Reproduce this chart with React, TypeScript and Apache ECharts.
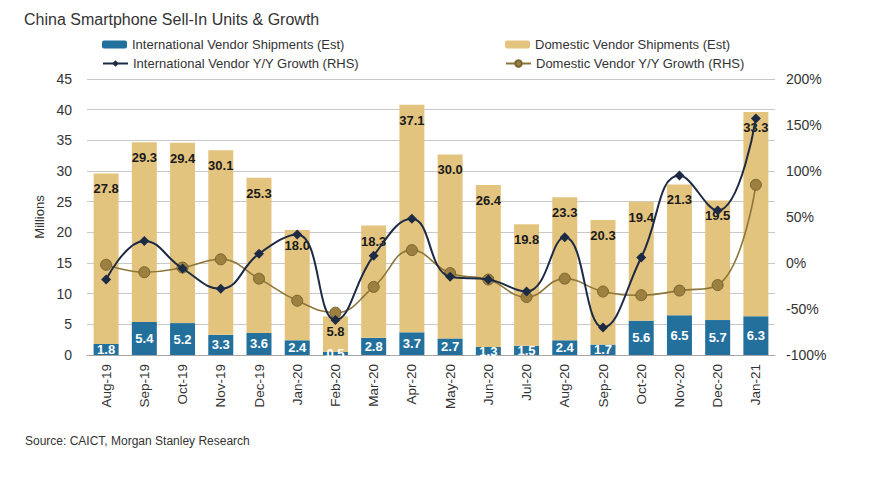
import React, { useEffect, useRef } from "react";
import * as echarts from "echarts";

const categories = ["Aug-19","Sep-19","Oct-19","Nov-19","Dec-19","Jan-20","Feb-20","Mar-20","Apr-20","May-20","Jun-20","Jul-20","Aug-20","Sep-20","Oct-20","Nov-20","Dec-20","Jan-21"];
const intlShipments = [1.8,5.4,5.2,3.3,3.6,2.4,0.5,2.8,3.7,2.7,1.3,1.5,2.4,1.7,5.6,6.5,5.7,6.3];
const domesticShipments = [27.8,29.3,29.4,30.1,25.3,18.0,5.8,18.3,37.1,30.0,26.4,19.8,23.3,20.3,19.4,21.3,19.5,33.3];
const intlGrowth = [-18,24,-6,-28,10,31,-62,8,48,-15,-18,-31,28,-70,6,95,57,157];
const domesticGrowth = [-2,-10,-5,4,-17,-41,-54,-26,14,-11,-18,-37,-17,-31,-35,-30,-24,85];

const NAMES = [
  "International Vendor Shipments (Est)",
  "Domestic Vendor Shipments (Est)",
  "International Vendor Y/Y Growth (RHS)",
  "Domestic Vendor Y/Y Growth (RHS)",
];

const FONT = "Liberation Sans, Arial, sans-serif";
const BLUE = "#23709d";
const TAN = "#e3c47f";
const NAVY = "#1d2a44";
const BROWN = "#8c7538";

export default function App() {
  const ref = useRef<HTMLDivElement>(null);
  useEffect(() => {
    if (!ref.current) return;
    const chart = echarts.init(ref.current, null, { renderer: "svg" });
    const legendText = { fontFamily: FONT, fontSize: 13, color: "#333" };
    const mkLegend = (name: string, left: number, top: number) => ({
      data: [name],
      left,
      top,
      itemWidth: 25,
      itemHeight: 8,
      itemGap: 0,
      padding: 0,
      textStyle: legendText,
    });
    chart.setOption({
      animation: false,
      backgroundColor: "#ffffff",
      title: {
        text: "China Smartphone Sell-In Units & Growth",
        left: 24,
        top: 11,
        padding: 0,
        textStyle: { fontFamily: FONT, fontSize: 16, fontWeight: "normal", color: "#333" },
      },
      legend: [
        mkLegend(NAMES[0], 102, 38),
        mkLegend(NAMES[1], 505, 38),
        mkLegend(NAMES[2], 102, 57),
        mkLegend(NAMES[3], 505, 57),
      ],
      graphic: [
        {
          type: "text",
          left: 25,
          top: 435,
          style: { text: "Source: CAICT, Morgan Stanley Research", fontFamily: FONT, fontSize: 12, fill: "#333" },
        },
      ],
      grid: { left: 87, right: 95, top: 79, bottom: 130 },
      xAxis: {
        type: "category",
        data: categories,
        axisLine: { lineStyle: { color: "#a6a6a6", width: 1 } },
        axisTick: { show: false },
        axisLabel: { rotate: 90, fontFamily: FONT, fontSize: 13.5, color: "#333", margin: 9 },
      },
      yAxis: [
        {
          type: "value",
          min: 0,
          max: 45,
          interval: 5,
          name: "Millions",
          nameLocation: "middle",
          nameRotate: 90,
          nameGap: 36,
          nameTextStyle: { fontFamily: FONT, fontSize: 13, color: "#333" },
          axisLine: { show: false },
          axisTick: { show: false },
          axisLabel: { fontFamily: FONT, fontSize: 14, color: "#333", margin: 15 },
          splitLine: { lineStyle: { color: "#c8c8c8", width: 1 } },
        },
        {
          type: "value",
          min: -100,
          max: 200,
          interval: 50,
          position: "right",
          axisLine: { show: false },
          axisTick: { show: false },
          axisLabel: { fontFamily: FONT, fontSize: 14, color: "#333", margin: 11, formatter: "{value}%" },
          splitLine: { show: false },
        },
      ],
      series: [
        {
          name: NAMES[0],
          type: "bar",
          stack: "ship",
          data: intlShipments,
          barWidth: 25,
          itemStyle: { color: BLUE },
          label: {
            show: true,
            position: "inside",
            color: "#fff",
            fontFamily: FONT,
            fontWeight: "bold",
            fontSize: 13,
            formatter: (p: any) => p.value.toFixed(1),
          },
          z: 2,
        },
        {
          name: NAMES[1],
          type: "bar",
          stack: "ship",
          data: domesticShipments,
          barWidth: 25,
          itemStyle: { color: TAN },
          label: {
            show: true,
            position: "insideTop",
            distance: 9,
            color: "#1a1a1a",
            fontFamily: FONT,
            fontWeight: "bold",
            fontSize: 13,
            formatter: (p: any) => p.value.toFixed(1),
          },
          z: 2,
        },
        {
          name: NAMES[2],
          type: "line",
          yAxisIndex: 1,
          data: intlGrowth,
          smooth: 0.45,
          symbol: "diamond",
          symbolSize: 10,
          lineStyle: { color: NAVY, width: 2 },
          itemStyle: { color: NAVY },
          z: 4,
        },
        {
          name: NAMES[3],
          type: "line",
          yAxisIndex: 1,
          data: domesticGrowth,
          smooth: 0.45,
          symbol: "circle",
          symbolSize: 11,
          lineStyle: { color: BROWN, width: 1.6 },
          itemStyle: { color: "#9c8040", borderColor: "#7a6430", borderWidth: 1 },
          z: 3,
        },
      ],
    });
    return () => chart.dispose();
  }, []);
  return (
    <div
      ref={ref}
      style={{ position: "fixed", left: 0, top: 0, width: 870, height: 485, background: "#fff" }}
    />
  );
}
